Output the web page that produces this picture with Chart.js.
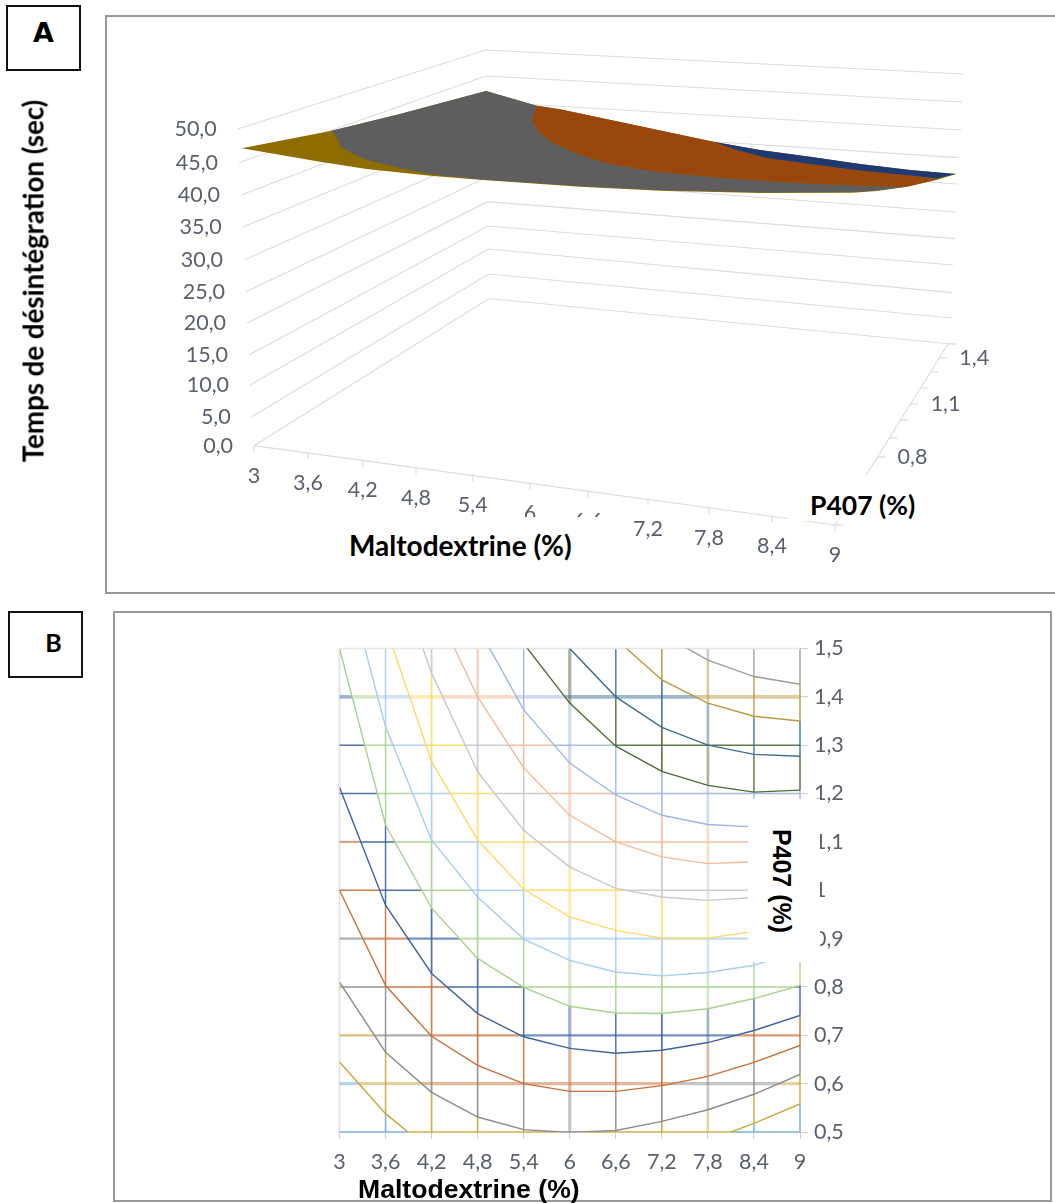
<!DOCTYPE html>
<html><head><meta charset="utf-8">
<style>
html,body{margin:0;padding:0;background:#fff;width:1055px;height:1203px;overflow:hidden}
canvas{position:absolute;filter:blur(.6px)}
.frame{position:absolute;border:2px solid #999;box-sizing:border-box}
.tag{position:absolute;border:2px solid #111;box-sizing:border-box;background:#fff;color:#000;font-weight:bold;text-align:center}
.t{position:absolute;color:#000;font-weight:bold;white-space:nowrap;background:#fff}
</style>
<script src="https://cdn.jsdelivr.net/npm/chart.js@4"></script>
</head><body>
<div class="frame" style="left:105px;top:15px;width:960px;height:579px"></div>
<div class="frame" style="left:113px;top:611px;width:939px;height:591px"></div>
<canvas id="a" width="1055" height="600" style="left:0;top:0"></canvas>
<canvas id="b" width="680" height="570" style="left:200px;top:620px"></canvas>
<div class="tag" style="left:6px;top:5px;width:75px;height:66px;font:bold 27px 'DejaVu Sans';line-height:52px">A</div>
<div class="tag" style="left:8px;top:611px;width:75px;height:67px;font:bold 25px Lato;line-height:58px;text-indent:16px">B</div>
<div class="t" style="left:33px;top:281px;font:bold 27.7px Lato;transform:translate(-50%,-50%) rotate(-90deg);background:none">Temps de désintégration (sec)</div>
<div class="t" style="left:340px;top:517px;width:265px;height:55px;font:bold 28px Lato;line-height:56px;text-indent:9px">Maltodextrine (%)</div>
<div class="t" style="left:788px;top:475px;width:135px;height:46px;font:bold 26.5px Lato;line-height:60px;text-indent:22px">P407 (%)</div>
<div class="t" style="left:748px;top:799px;width:72px;height:163px"></div>
<div class="t" style="left:781px;top:881px;font:bold 25px 'Liberation Sans';transform:translate(-50%,-50%) rotate(90deg);background:none">P407 (%)</div>
<div class="t" style="left:358px;top:1176px;font:bold 26.6px 'Liberation Sans';line-height:27px;background:none">Maltodextrine (%)</div>
<script>
// ---- Panel A data
const surfaceMaltodextrineTicks=["3","3,6","4,2","4,8","5,4","6","6,6","7,2","7,8","8,4","9"];
const timeTicks=[0,5,10,15,20,25,30,35,40,45,50];
const depthTicks=["0,8","1,1","1,4"];
const goldBandU=[241.7,331.7,400,486,536.7,560,713.3,760,810,860,910,956,936.7,906.7,876.7,853,760,660,580,483,433,366.7,320];
const goldBandV=[148.3,130.7,114,91,105.7,109.3,141.7,150,156.7,164,170,174,180,186.7,191,192.7,193,190.7,186.7,180,176,169,161.7];
const grayBandU=[331.7,400,486,536.7,531.7,540,553,580,610,660,726.7,793,860,906.7,876.7,853,760,660,580,483,433,400,367,353,341,337];
const grayBandV=[130.7,114,91,105.7,120,133.3,143,155,164,172.3,178.3,182.7,185.7,186.7,190.5,192,192.3,190,186,179.5,174.5,168,160,154,147,138];
const orangeBandU=[536.7,560,713.3,736.7,766.7,810,860,910,936,906.7,860,793,726.7,660,610,580,553,540,531.7];
const orangeBandV=[105.7,109.3,141.7,150,158,164,170.5,175.5,179.5,186.7,185.7,182.7,178.3,172.3,164,155,143,133.3,120];
const blueBandU=[713.3,760,810,860,910,956,936,910,860,810,766.7,736.7];
const blueBandV=[141.7,150,156.7,164,170,174,178.5,175.5,170.5,164,158,150];

// ---- Panel B data: P407 value of each contour at each maltodextrine value
const maltodextrine=[3,3.6,4.2,4.8,5.4,6,6.6,7.2,7.8,8.4,9];
const p407=[0.5,0.6,0.7,0.8,0.9,1,1.1,1.2,1.3,1.4,1.5];
const contour01=[0.645,0.538,0.46,0.42,0.39,0.37,0.38,0.41,0.482,0.518,0.558];
const contour02=[0.81,0.665,0.582,0.531,0.505,0.499,0.503,0.522,0.546,0.578,0.619];
const contour03=[1.0,0.803,0.698,0.638,0.6,0.584,0.584,0.596,0.615,0.644,0.679];
const contour04=[1.213,0.969,0.828,0.745,0.697,0.673,0.663,0.669,0.685,0.71,0.741];
const contour05=[1.5,1.135,0.963,0.859,0.799,0.76,0.746,0.745,0.755,0.776,0.803];
const contour06=[1.7,1.338,1.104,0.986,0.899,0.855,0.831,0.823,0.83,0.845,0.875];
const contour07=[1.9,1.547,1.266,1.104,1.002,0.945,0.917,0.901,0.901,0.915,0.95];
const contour08=[2.1,1.72,1.449,1.245,1.124,1.048,1.004,0.986,0.979,0.985,1.0];
const contour09=[2.2,1.85,1.6,1.4,1.253,1.155,1.1,1.069,1.055,1.059,1.07];
const contour10=[2.4,2.05,1.78,1.545,1.373,1.263,1.197,1.155,1.136,1.131,1.13];
const contour11=[2.6,2.3,2.0,1.72,1.51,1.387,1.298,1.246,1.217,1.203,1.207];
const contour12=[2.8,2.5,2.2,1.9,1.65,1.5,1.4,1.337,1.3,1.281,1.277];
const contour13=[3.0,2.7,2.4,2.1,1.9,1.68,1.52,1.435,1.387,1.36,1.35];
const contour14=[3.2,2.9,2.6,2.3,2.0,1.8,1.62,1.53,1.476,1.442,1.426];
const contours=[contour01,contour02,contour03,contour04,contour05,contour06,contour07,contour08,contour09,contour10,contour11,contour12,contour13,contour14];
const bandColors=['#6fa5d8','#c9a63a','#8c8c8c','#c8703a','#3f62a3','#a9d18e','#a9cdec','#ffd966','#c9c9c9','#f4b99a','#9db5e2','#4f6b35','#3d6f96','#b99a3f','#9c9c9c'];

// ---- Panel A layout (projected corners of the 3D walls)
const frontLeftU=[254,251.7,250,249,247,246,244,242.7,241,239,237.7];
const frontLeftV=[445.7,416.7,385,355,323,291.7,260,227,195,162.7,129];
const backLeftU=[489,488.7,488.3,488,487.7,487.3,487,486.7,486.3,486,485.7];
const backLeftV=[298.5,274,249,226,201.7,177,152,127,102,76,50];
const backRightU=[951,951.7,952,953,955,956,957,959,961.5,962,963];
const backRightV=[344,318,292.7,265,238.7,212,184,157.7,130,102,74];
const frontEdgeU=[254,308,362.7,416,472.7,530,588,648,709,772,835];
const depthV=[525,500,478,457,438,420,404,388,372,358,344];
const edgeV=u=>445.7+(u-254)*0.1365;
const depthU=v=>835+(525-v)*0.6243;
const pts=(U,V)=>U.map((u,i)=>({x:u,y:V[i]}));
const WALL='#dcdcdc';
const line=(data,extra)=>Object.assign({data,showLine:true,pointRadius:0,borderColor:WALL,borderWidth:1.2,tension:0,order:10,clip:false},extra||{});
const dsA=[];
timeTicks.forEach((t,i)=>dsA.push(line([{x:frontLeftU[i],y:frontLeftV[i]},{x:backLeftU[i],y:backLeftV[i]},{x:backRightU[i],y:backRightV[i]}])));
dsA.push(line([{x:frontEdgeU[0],y:edgeV(254)},{x:835,y:edgeV(835)}]));
dsA.push(line([{x:depthU(525),y:525},{x:depthU(344),y:344}]));
frontEdgeU.forEach(u=>dsA.push(line([{x:u,y:edgeV(u)},{x:u,y:edgeV(u)+6}])));
depthV.forEach(v=>dsA.push(line([{x:depthU(v),y:v},{x:depthU(v)+8,y:v}])));
[[goldBandU,goldBandV,'#8f6c00',4],[grayBandU,grayBandV,'#5e5e5e',3],[orangeBandU,orangeBandV,'#99470d',2],[blueBandU,blueBandV,'#1f3a72',1]].forEach(([U,V,c,o])=>
  dsA.push(line(pts(U,V),{polygon:c,borderWidth:0,borderColor:'transparent',order:o})));

const polygonPlugin={id:'polygon',beforeDatasetDraw(chart,args){
  const c=chart.data.datasets[args.index].polygon; if(!c) return;
  const e=args.meta.data, g=chart.ctx;
  g.save();g.beginPath();e.forEach((p,i)=>i?g.lineTo(p.x,p.y):g.moveTo(p.x,p.y));g.closePath();g.fillStyle=c;g.fill();g.restore();
}};
const labelsPlugin={id:'labelsA',afterDraw(chart){
  const g=chart.ctx,X=chart.scales.x,Y=chart.scales.y;
  g.save();g.fillStyle='#5a606c';g.font='21.5px Lato';g.textBaseline='middle';
  g.textAlign='right';
  timeTicks.forEach((t,i)=>g.fillText(t.toFixed(1).replace('.',','),X.getPixelForValue(frontLeftU[i]-21),Y.getPixelForValue(frontLeftV[i])));
  g.textAlign='center';
  surfaceMaltodextrineTicks.forEach((t,i)=>{const u=frontEdgeU[i];g.fillText(t,X.getPixelForValue(u),Y.getPixelForValue(edgeV(u)+30));});
  [[457,0],[404,1],[358,2]].forEach(([v,k])=>g.fillText(depthTicks[k],X.getPixelForValue(depthU(v)+35),Y.getPixelForValue(v)));
  g.restore();
}};
new Chart(document.getElementById('a'),{type:'scatter',data:{datasets:dsA},plugins:[polygonPlugin,labelsPlugin],
 options:{responsive:false,animation:false,devicePixelRatio:1,layout:{padding:0},
  plugins:{legend:{display:false},tooltip:{enabled:false}},
  scales:{x:{type:'linear',display:false,min:0,max:1055},y:{type:'linear',display:false,min:0,max:600,reverse:true}}}});

// ---- Panel B
const contourAt=(c,x)=>{let i=Math.min(maltodextrine.length-2,Math.max(0,Math.floor((x-3)/0.6+1e-9)));
  const x0=maltodextrine[i],x1=maltodextrine[i+1];return c[i]+(c[i+1]-c[i])*(x-x0)/(x1-x0);};
const bandAt=(x,p)=>contours.filter(c=>contourAt(c,x)<p).length;
const hexAlpha=(h,a)=>h+Math.round(a*255).toString(16).padStart(2,'0');
const hWidths=[1.5,3.2,2.2,2,2.2,1.5,2,1.5,1.5,3.6,1.5];
const vWidths=[1.5,1.5,1.7,1.7,1.5,3.2,1.5,1.7,2.6,1.5,2];
const gridDs=(data,w)=>{const a=w>=2.5?0.5:w>=2?0.7:0.9;return {data,showLine:true,pointRadius:0,borderWidth:w,tension:0,order:2,borderColor:'#ccc',clip:false,borderCapStyle:'butt',
  segment:{borderColor:ctx=>hexAlpha(bandColors[bandAt((ctx.p0.parsed.x+ctx.p1.parsed.x)/2,(ctx.p0.parsed.y+ctx.p1.parsed.y)/2)],a)}};};
const dsB=[];
p407.forEach((p,k)=>{
  if(p===1.5){dsB.push({data:[{x:3,y:p},{x:9,y:p}],showLine:true,pointRadius:0,borderWidth:1.5,borderColor:'#e6e6e6',order:2,clip:false});return;}
  const xs=[3,9];
  contours.forEach(c=>{for(let i=0;i<10;i++){const a=c[i]-p,b=c[i+1]-p;if(a*b<0)xs.push(maltodextrine[i]+0.6*a/(a-b));}});
  xs.sort((a,b)=>a-b);
  dsB.push(gridDs(xs.map(x=>({x,y:p})),hWidths[k]));
});
maltodextrine.forEach((x,k)=>{
  if(k===0){dsB.push({data:[{x,y:.5},{x,y:1.5}],showLine:true,pointRadius:0,borderWidth:2,borderColor:'#e6e6e6',order:3,clip:false});return;}
  const ps=[0.5,1.5];
  contours.forEach(c=>{const v=c[k];if(v>0.5&&v<1.5)ps.push(v);});
  ps.sort((a,b)=>a-b);
  dsB.push(gridDs(ps.map(y=>({x,y})),vWidths[k]));
});
contours.forEach((c,i)=>dsB.push({data:maltodextrine.map((x,j)=>({x,y:c[j]})),showLine:true,pointRadius:0,borderWidth:1.4,borderColor:bandColors[i+1],tension:0,order:1}));
const comma=v=>String(+v.toFixed(1)).replace('.',',');
new Chart(document.getElementById('b'),{type:'scatter',data:{datasets:dsB},
 options:{responsive:false,animation:false,devicePixelRatio:1,
  layout:{padding:{left:139.5,top:28.5,right:0,bottom:0}},
  plugins:{legend:{display:false},tooltip:{enabled:false}},
  scales:{
   x:{type:'linear',min:3,max:9,afterBuildTicks:s=>{s.ticks=maltodextrine.map(value=>({value}));},afterFit:s=>{s.height=58;},
      grid:{drawOnChartArea:false,drawTicks:true,tickLength:7,color:'#d0d0d0'},border:{display:false},
      ticks:{padding:10,maxRotation:0,autoSkip:false,color:'#5a606c',font:{family:'Lato',size:21.5},callback:v=>comma(v)}},
   y:{type:'linear',position:'right',min:0.5,max:1.5,afterBuildTicks:s=>{s.ticks=p407.map(value=>({value}));},afterFit:s=>{s.width=80;},
      grid:{drawOnChartArea:false,drawTicks:true,tickLength:8,color:'#d0d0d0'},border:{display:false},
      ticks:{padding:6,autoSkip:false,color:'#5a606c',font:{family:'Lato',size:21.5},callback:v=>comma(v)}}
  }}});
</script>
</body></html>
